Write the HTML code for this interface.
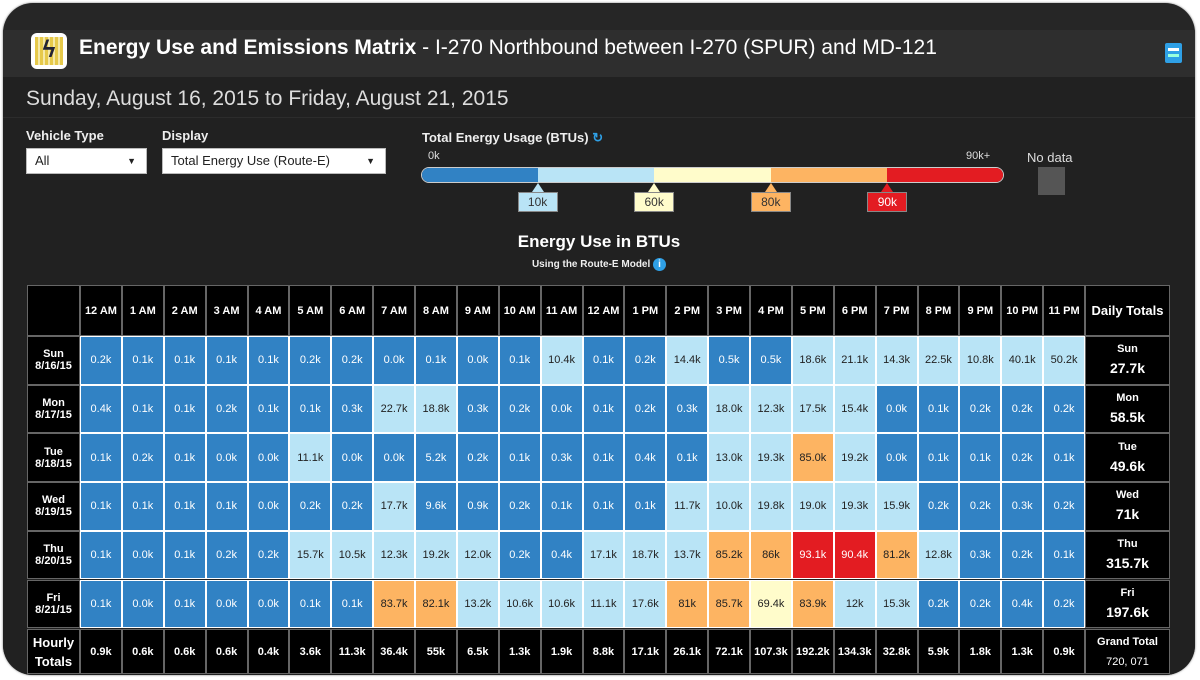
<!DOCTYPE html>
<html><head><meta charset="utf-8">
<style>
html,body{margin:0;padding:0;background:#fff;width:1200px;height:680px;overflow:hidden;font-family:"Liberation Sans",Arial,sans-serif}
#frame{position:absolute;left:3px;top:3px;width:1192px;height:672px;border-radius:30px;background:#262626;overflow:hidden;box-shadow:0 0 2px #777}
.abs{position:absolute}
#hdr{left:0;top:27px;width:1192px;height:47px;background:#2e2e2e}
#body{left:0;top:74px;width:1192px;height:600px;background:#212121}
.c{position:absolute;box-sizing:border-box;display:flex;align-items:center;justify-content:center;text-align:center;font-size:11px}
.h{background:#000;color:#fff;font-weight:bold;border:1px solid #666}
.sel{background:#fff;color:#222;font-size:13px;box-sizing:border-box;border:1px solid #bbb;padding-left:8px;line-height:24px}
.sel span{position:absolute;right:10px;font-size:9px}
.mk{position:absolute;top:189px;width:40px;height:20px;font-size:12px;display:flex;align-items:center;justify-content:center;border:1px solid #888;box-sizing:border-box;color:#333}
</style></head><body>
<div id="frame">
 <div class="abs" id="hdr"></div>
 <div class="abs" id="body"></div>
 <div class="abs" style="left:28px;top:30px;width:36px;height:36px;border-radius:6px;background:#fff;">
  <div style="position:absolute;left:4px;top:4px;width:28px;height:28px;background:repeating-linear-gradient(90deg,#e6c94a 0 3px,#f5e9a8 3px 5px);"></div>
  <div style="position:absolute;left:0;top:3px;width:36px;text-align:center;font-size:24px;color:#223;font-weight:bold">ϟ</div>
 </div>
 <div class="abs" style="left:76px;top:33px;font-size:21px;color:#fff;white-space:nowrap"><b>Energy Use and Emissions Matrix</b> - I-270 Northbound between I-270 (SPUR) and MD-121</div>
 <div class="abs" style="left:1162px;top:40px;width:17px;height:20px;background:#2fa0e6;border-radius:2px">
  <div style="position:absolute;left:3px;top:5px;width:11px;height:3px;background:#fff"></div><div style="position:absolute;left:3px;top:11px;width:11px;height:3px;background:#9fd"></div></div>
 <div class="abs" style="left:23px;top:84px;font-size:21px;color:#ddd;white-space:nowrap">Sunday, August 16, 2015 to Friday, August 21, 2015</div>
 <div class="abs" style="left:0;top:114px;width:1192px;height:1px;background:#2c2c2c"></div>
 <div class="abs" style="left:23px;top:125px;font-size:13px;font-weight:bold;color:#eee">Vehicle Type</div>
 <div class="abs sel" style="left:23px;top:145px;width:121px;height:26px">All<span>▼</span></div>
 <div class="abs" style="left:159px;top:125px;font-size:13px;font-weight:bold;color:#eee">Display</div>
 <div class="abs sel" style="left:159px;top:145px;width:224px;height:26px">Total Energy Use (Route-E)<span>▼</span></div>
 <div class="abs" style="left:419px;top:127px;font-size:13px;font-weight:bold;color:#eee">Total Energy Usage (BTUs) <span style="color:#2fa0e6">↻</span></div>
 <div class="abs" style="left:425px;top:147px;font-size:11px;color:#ddd">0k</div>
 <div class="abs" style="left:963px;top:147px;font-size:11px;color:#ddd">90k+</div>
 <div class="abs" id="legbar" style="left:418px;top:164px;width:583px;height:16px;border-radius:8px;overflow:hidden;border:1px solid #ccc;box-sizing:border-box;display:flex"></div>
 <div id="markers"></div>
 <div class="abs" style="left:1024px;top:147px;font-size:13px;color:#ddd">No data</div>
 <div class="abs" style="left:1035px;top:164px;width:27px;height:28px;background:#555"></div>
 <div class="abs" style="left:0;width:1192px;text-align:center;top:229px;font-size:17px;font-weight:bold;color:#fff">Energy Use in BTUs</div>
 <div class="abs" style="left:0;width:1192px;text-align:center;top:255px;font-size:10px;font-weight:bold;color:#eee">Using the Route-E Model <span style="display:inline-block;width:13px;height:13px;border-radius:50%;background:#2fa0e6;color:#fff;font-size:10px;line-height:13px;vertical-align:middle">i</span></div>
 <div id="grid" class="abs" style="left:0;top:0"></div>
</div>
<script>
const hours=["12 AM","1 AM","2 AM","3 AM","4 AM","5 AM","6 AM","7 AM","8 AM","9 AM","10 AM","11 AM","12 AM","1 PM","2 PM","3 PM","4 PM","5 PM","6 PM","7 PM","8 PM","9 PM","10 PM","11 PM"];
const days=["Sun","Mon","Tue","Wed","Thu","Fri"];
const dates=["8/16/15","8/17/15","8/18/15","8/19/15","8/20/15","8/21/15"];
const rowSun=["0.2k","0.1k","0.1k","0.1k","0.1k","0.2k","0.2k","0.0k","0.1k","0.0k","0.1k","10.4k","0.1k","0.2k","14.4k","0.5k","0.5k","18.6k","21.1k","14.3k","22.5k","10.8k","40.1k","50.2k"];
const rowMon=["0.4k","0.1k","0.1k","0.2k","0.1k","0.1k","0.3k","22.7k","18.8k","0.3k","0.2k","0.0k","0.1k","0.2k","0.3k","18.0k","12.3k","17.5k","15.4k","0.0k","0.1k","0.2k","0.2k","0.2k"];
const rowTue=["0.1k","0.2k","0.1k","0.0k","0.0k","11.1k","0.0k","0.0k","5.2k","0.2k","0.1k","0.3k","0.1k","0.4k","0.1k","13.0k","19.3k","85.0k","19.2k","0.0k","0.1k","0.1k","0.2k","0.1k"];
const rowWed=["0.1k","0.1k","0.1k","0.1k","0.0k","0.2k","0.2k","17.7k","9.6k","0.9k","0.2k","0.1k","0.1k","0.1k","11.7k","10.0k","19.8k","19.0k","19.3k","15.9k","0.2k","0.2k","0.3k","0.2k"];
const rowThu=["0.1k","0.0k","0.1k","0.2k","0.2k","15.7k","10.5k","12.3k","19.2k","12.0k","0.2k","0.4k","17.1k","18.7k","13.7k","85.2k","86k","93.1k","90.4k","81.2k","12.8k","0.3k","0.2k","0.1k"];
const rowFri=["0.1k","0.0k","0.1k","0.0k","0.0k","0.1k","0.1k","83.7k","82.1k","13.2k","10.6k","10.6k","11.1k","17.6k","81k","85.7k","69.4k","83.9k","12k","15.3k","0.2k","0.2k","0.4k","0.2k"];
const hourlyTotals=["0.9k","0.6k","0.6k","0.6k","0.4k","3.6k","11.3k","36.4k","55k","6.5k","1.3k","1.9k","8.8k","17.1k","26.1k","72.1k","107.3k","192.2k","134.3k","32.8k","5.9k","1.8k","1.3k","0.9k"];
const dailyTotals=["27.7k","58.5k","49.6k","71k","315.7k","197.6k"];
const grandTotal="720, 071";
const thresholds=[10,60,80,90];
const binColors=["#3182c4","#b9e4f6","#fffccb","#fdb462","#e31c22"];
const binText=["#fff","#222","#222","#222","#fff"];

const rows=[rowSun,rowMon,rowTue,rowWed,rowThu,rowFri];
const X0=80,CW=(1085-80)/24,Y0=285-3,HH=51,RH=48.7,FX=-3;
function colX(i){return X0+FX+i*CW;}
function rowY(r){return Y0+HH+r*RH;}
function bin(v){let b=0;for(const t of thresholds)if(v>=t)b++;return b;}
const g=document.getElementById('grid');
function cell(x,y,w,h,cls,html,name){const d=document.createElement('div');d.className='c '+cls;d.style.left=x+'px';d.style.top=y+'px';d.style.width=w+'px';d.style.height=h+'px';d.innerHTML=html;


g.appendChild(d);return d;}
cell(27+FX,Y0,X0-27,HH,'h','','corner-cell');
hours.forEach((h,i)=>cell(colX(i),Y0,CW,HH,'h',h,'hour-header'));
cell(colX(24),Y0,85,HH,'h','<span style="font-size:13px">Daily Totals</span>','daily-totals-header');
rows.forEach((row,r)=>{
 cell(27+FX,rowY(r),X0-27,RH,'h',days[r]+'<br>'+dates[r],'day-label');
 row.forEach((s,i)=>{const b=bin(parseFloat(s));const d=cell(colX(i),rowY(r),CW,RH,'',s,'heat-cell');
  d.style.background=binColors[b];d.style.color=binText[b];d.style.border='1px solid #fff';});
 cell(colX(24),rowY(r),85,RH,'h','<span style="line-height:19px">'+days[r]+'<br><span style="font-size:14px">'+dailyTotals[r]+'</span></span>','daily-total');
});
const ty=rowY(6)+1;
cell(27+FX,ty,X0-27,45,'h','<span style="font-size:13px;line-height:19px">Hourly<br>Totals</span>','hourly-totals-label');
hourlyTotals.forEach((s,i)=>cell(colX(i),ty,CW,45,'h',s,'hourly-total'));
cell(colX(24),ty,85,45,'h','<span style="line-height:20px">Grand Total<br><span style="font-weight:normal">'+grandTotal+'</span></span>','grand-total');
// legend
const lb=document.getElementById('legbar');
binColors.forEach((c,i)=>{const s=document.createElement('div');s.style.flex='1';s.style.background=c;


lb.appendChild(s);});
const mk=document.getElementById('markers');
const legX0=418,legW=583,segW=legW/5;
thresholds.forEach((t,i)=>{const x=legX0+segW*(i+1);const m=document.createElement('div');m.className='mk';m.style.left=(x-20)+'px';m.style.background=binColors[i+1];m.style.color=i==3?'#fff':'#333';m.textContent=t+'k';


mk.appendChild(m);
const a=document.createElement('div');a.style.cssText='position:absolute;top:180px;left:'+(x-6)+'px;width:0;height:0;border-left:6px solid transparent;border-right:6px solid transparent;border-bottom:9px solid '+binColors[i+1];


mk.appendChild(a);});
</script>
</body></html>
